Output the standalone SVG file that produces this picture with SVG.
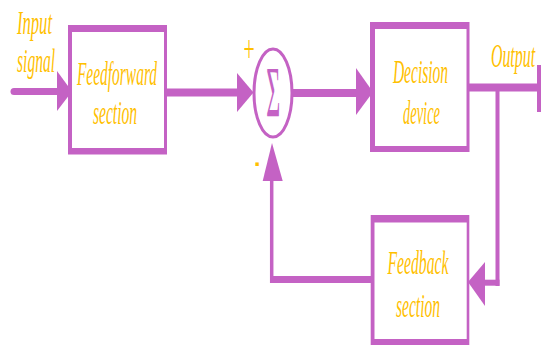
<svg xmlns="http://www.w3.org/2000/svg" width="541" height="345" viewBox="0 0 541 345">
  <style>
    .lbl { font-family: "Liberation Serif", "Times New Roman", serif; font-style: italic; font-size: 34px; fill: #FFC000; text-anchor: middle; }
    .frame { fill: #C462C4; }
    .inner { fill: #FFFFFF; }
    .wire { stroke: #C462C4; fill: none; }
    .head { fill: #C462C4; }
    .sign { fill: #FFC000; text-anchor: middle; }
  </style>
  <rect width="541" height="345" fill="#FFFFFF"/>

  <g id="connectors">
    <line class="wire" x1="14" y1="91.5" x2="60" y2="91.5" stroke-width="7" stroke-linecap="round"/>
    <polygon class="head" points="57,71 72,91.5 57,111"/>
    <line class="wire" x1="167" y1="92.5" x2="240" y2="92.5" stroke-width="8"/>
    <polygon class="head" points="237,73 253.5,92.5 237,112"/>
    <line class="wire" x1="292" y1="93" x2="358" y2="93" stroke-width="8"/>
    <polygon class="head" points="356,68 373,92 356,115"/>
    <line class="wire" x1="469" y1="87.5" x2="538" y2="87.5" stroke-width="8"/>
    <rect class="head" x="537" y="65" width="4" height="47"/>
    <line class="wire" x1="497.5" y1="87" x2="497.5" y2="286" stroke-width="4"/>
    <line class="wire" x1="483" y1="282.7" x2="499.5" y2="282.7" stroke-width="6"/>
    <polygon class="head" points="485,262 468,282 485,306"/>
    <line class="wire" x1="270" y1="279.5" x2="372" y2="279.5" stroke-width="7"/>
    <line class="wire" x1="271.7" y1="283" x2="271.7" y2="178" stroke-width="3.5"/>
    <polygon class="head" points="262.7,181 272,143 282.7,181"/>
  </g>

  <g id="input-label">
    <text class="lbl" transform="translate(34.5,34) scale(0.48,1)" textLength="73" lengthAdjust="spacingAndGlyphs">Input</text>
    <text class="lbl" transform="translate(36,72) scale(0.48,1)" textLength="79" lengthAdjust="spacingAndGlyphs">signal</text>
  </g>

  <g id="feedforward">
    <rect class="frame" x="68" y="25" width="99" height="129.5"/>
    <rect class="inner" x="72" y="32" width="92" height="116"/>
    <text class="lbl" transform="translate(117,85) scale(0.48,1)" textLength="167" lengthAdjust="spacingAndGlyphs">Feedforward</text>
    <text class="lbl" transform="translate(115,124) scale(0.48,1)" textLength="92" lengthAdjust="spacingAndGlyphs">section</text>
  </g>

  <g id="summer">
    <ellipse cx="273" cy="93" rx="19" ry="44" fill="#FFFFFF" stroke="#C462C4" stroke-width="3"/>
    <text x="0" y="0" transform="translate(273.3,116) scale(0.8,2.42)" style="font-family: 'Liberation Serif', serif; font-size: 30px; fill: #C462C4; text-anchor: middle;">Σ</text>
    <text class="sign" x="0" y="0" transform="translate(249,62) scale(0.9,1.7)" style="font-family: 'Liberation Serif', serif; font-size: 22px;">+</text>
    <text class="sign" x="0" y="0" transform="translate(257.3,172) scale(1.1,2.4)" style="font-family: 'Liberation Sans', sans-serif; font-size: 12px; font-weight: bold;">-</text>
  </g>

  <g id="decision">
    <rect class="frame" x="370" y="22" width="99.5" height="130"/>
    <rect class="inner" x="375" y="29" width="91.5" height="117"/>
    <text class="lbl" transform="translate(420.5,83) scale(0.48,1)" textLength="115" lengthAdjust="spacingAndGlyphs">Decision</text>
    <text class="lbl" transform="translate(421.5,124) scale(0.48,1)" textLength="77" lengthAdjust="spacingAndGlyphs">device</text>
  </g>

  <g id="output-label">
    <text class="lbl" transform="translate(513,67) scale(0.48,1)" textLength="92" lengthAdjust="spacingAndGlyphs">Output</text>
  </g>

  <g id="feedback">
    <rect class="frame" x="370.7" y="215" width="98.6" height="131"/>
    <rect class="inner" x="374.5" y="222.5" width="92.2" height="116.5"/>
    <text class="lbl" transform="translate(418,274) scale(0.48,1)" textLength="127" lengthAdjust="spacingAndGlyphs">Feedback</text>
    <text class="lbl" transform="translate(418,317) scale(0.48,1)" textLength="92" lengthAdjust="spacingAndGlyphs">section</text>
  </g>
</svg>
